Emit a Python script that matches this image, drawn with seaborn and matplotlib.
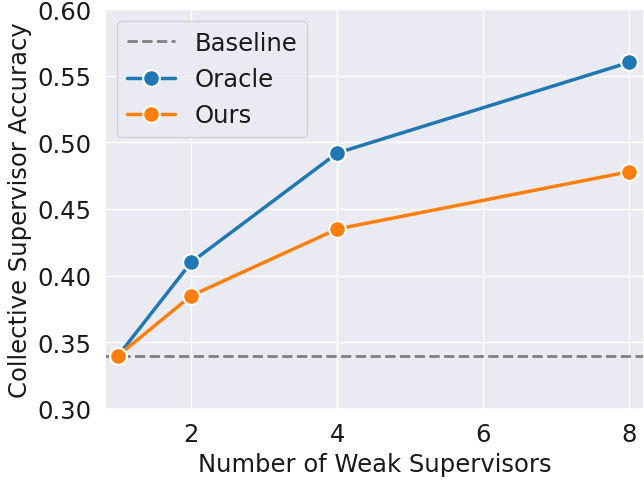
import numpy as np
import pandas as pd
import seaborn as sns
import matplotlib
matplotlib.use("Agg")
import matplotlib.pyplot as plt

num_supervisors = [1, 2, 4, 8]
oracle_acc = [0.340, 0.410, 0.492, 0.560]
ours_acc = [0.340, 0.385, 0.435, 0.478]
baseline_acc = 0.34

sns.set_theme(style="darkgrid")
plt.rcParams['font.family'] = ['DejaVu Sans']

df = pd.DataFrame({
    "x": num_supervisors * 2,
    "acc": oracle_acc + ours_acc,
    "method": ["Oracle"] * len(num_supervisors) + ["Ours"] * len(num_supervisors),
})

fig = plt.figure(figsize=(6.44, 4.85), dpi=100)
ax = fig.add_axes([105 / 644, 75 / 485, 539 / 644, 400 / 485])

ax.axhline(baseline_acc, color="grey", linestyle="--", linewidth=2, label="Baseline")
sns.lineplot(data=df, x="x", y="acc", hue="method", marker="o", markersize=12,
             linewidth=2.5, markeredgecolor="white", markeredgewidth=1.5,
             palette=["#1f77b4", "#ff7f0e"], ax=ax)

ax.set_xlim(0.82, 8.2)
ax.set_ylim(0.30, 0.60)
ax.set_xticks([2, 4, 6, 8])
ax.set_yticks([0.30, 0.35, 0.40, 0.45, 0.50, 0.55, 0.60])
ax.tick_params(labelsize=17.5, labelcolor="#1a1a1a")
ax.set_xlabel("Number of Weak Supervisors", fontsize=17.5, color="#1a1a1a")
ax.set_ylabel("Collective Supervisor Accuracy", fontsize=17.5, color="#1a1a1a")

leg = ax.legend(fontsize=17.5, loc="upper left")
leg.set_title(None)
for t in leg.get_texts():
    t.set_color("#1a1a1a")

fig.savefig("out.png", dpi=100)
